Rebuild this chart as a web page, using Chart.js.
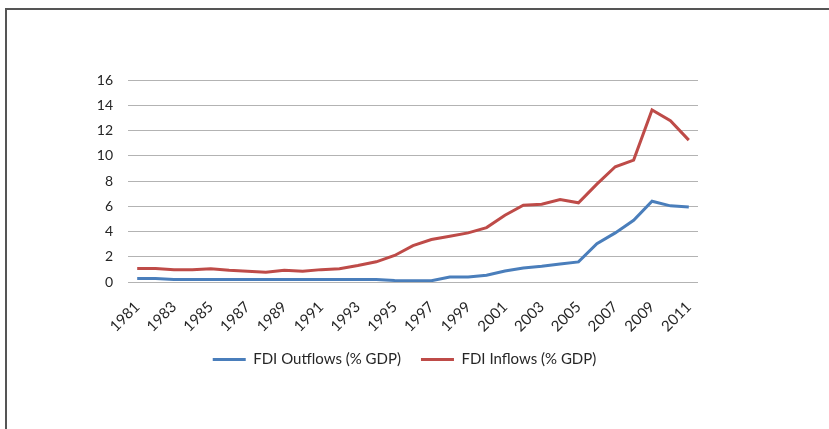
<!DOCTYPE html>
<html>
<head>
<meta charset="utf-8">
<script src="https://cdn.jsdelivr.net/npm/chart.js@4.4.1/dist/chart.umd.min.js"></script>
<style>
  html, body { margin: 0; padding: 0; background: #ffffff; }
  #wrap { position: relative; width: 829px; height: 429px; overflow: hidden; }
  #frame { position: absolute; left: 5px; top: 8px; right: -4px; bottom: -4px;
           border-top: 2px solid #555; border-left: 2px solid #555; }
  canvas { position: absolute; left: 0; top: 0; }
</style>
</head>
<body>
<div id="wrap">
  <div id="frame"></div>
  <canvas id="c" width="829" height="429"></canvas>
</div>
<script>
// Years on the category axis
const years = ['1981','1982','1983','1984','1985','1986','1987','1988','1989','1990',
               '1991','1992','1993','1994','1995','1996','1997','1998','1999','2000',
               '2001','2002','2003','2004','2005','2006','2007','2008','2009','2010','2011'];

// Foreign direct investment, net outflows (% of GDP)
const fdiOutflows = [0.27,0.27,0.20,0.20,0.20,0.20,0.20,0.20,0.20,0.20,
                     0.20,0.20,0.20,0.20,0.12,0.10,0.10,0.40,0.40,0.53,
                     0.87,1.11,1.24,1.43,1.59,3.04,3.89,4.89,6.40,6.03,5.95];

// Foreign direct investment, net inflows (% of GDP)
const fdiInflows = [1.07,1.07,0.98,0.98,1.05,0.93,0.85,0.78,0.93,0.85,
                    0.98,1.05,1.30,1.60,2.10,2.88,3.36,3.62,3.89,4.31,
                    5.29,6.08,6.16,6.53,6.27,7.75,9.13,9.66,13.62,12.78,11.24];

const yTicks = [0, 2, 4, 6, 8, 10, 12, 14, 16];

const FONT = 'Lato, "Open Sans", sans-serif';
const TEXT = '#262626';

new Chart(document.getElementById('c'), {
  type: 'line',
  data: {
    labels: years,
    datasets: [
      { label: 'FDI Outflows (% GDP)', data: fdiOutflows,
        borderColor: '#4a7ebb', backgroundColor: '#4a7ebb',
        borderWidth: 3, pointRadius: 0, tension: 0 },
      { label: 'FDI Inflows (% GDP)', data: fdiInflows,
        borderColor: '#be4b48', backgroundColor: '#be4b48',
        borderWidth: 3, pointRadius: 0, tension: 0 }
    ]
  },
  options: {
    responsive: false,
    animation: false,
    events: [],
    layout: { padding: { left: 0, top: 80, right: 20, bottom: 52 } },
    scales: {
      x: {
        offset: true,
        grid: { display: false },
        border: { display: false },
        ticks: {
          autoSkip: false,
          maxRotation: 45, minRotation: 45,
          padding: 8,
          color: TEXT,
          font: { family: FONT, size: 15 },
          callback: (v, i) => (i % 2 === 0 ? years[i] : '')
        },
        afterFit: (s) => { s.height = 50; }
      },
      y: {
        min: 0, max: 16,
        afterBuildTicks: (s) => { s.ticks = yTicks.map(v => ({ value: v })); },
        grid: { color: '#b3b3b3', lineWidth: 1, drawTicks: false },
        border: { display: false },
        ticks: { padding: 15, color: TEXT, font: { family: FONT, size: 14 } },
        afterFit: (s) => { s.width = 128; }
      },
      // empty right-hand gutter that keeps the plot narrower than the legend row
      gutter: {
        type: 'linear',
        position: 'right',
        grid: { display: false },
        border: { display: false },
        ticks: { display: false },
        afterFit: (s) => { s.width = 111; }
      }
    },
    plugins: {
      tooltip: { enabled: false },
      legend: {
        position: 'bottom',
        labels: {
          boxWidth: 33, boxHeight: 3, padding: 20,
          color: TEXT,
          font: { family: FONT, size: 15 },
          generateLabels: (chart) =>
            Chart.defaults.plugins.legend.labels.generateLabels(chart)
              .map(l => Object.assign(l, { lineWidth: 0 }))
        }
      }
    }
  }
});
</script>
</body>
</html>
